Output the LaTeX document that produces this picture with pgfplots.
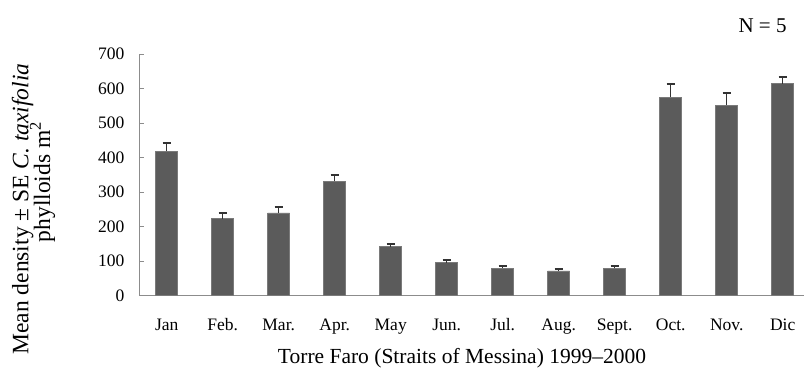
\documentclass[border=0pt]{standalone}
\usepackage{fontspec}
\setmainfont{Liberation Serif}
\usepackage{pgfplots}
\pgfplotsset{compat=1.18}
\definecolor{barfill}{HTML}{5B5B5B}
\definecolor{baredge}{HTML}{7A7A7A}
\definecolor{errc}{HTML}{333333}
\definecolor{axc}{HTML}{8C8C8C}
\begin{document}
\begin{tikzpicture}[x=1pt,y=1pt]
\useasboundingbox (0,0) rectangle (804,368);
\begin{axis}[
  at={(139pt,72.3pt)}, anchor=south west,
  scale only axis, width=665pt, height=241.7pt,
  xmin=-0.495, xmax=11.38, ymin=0, ymax=700,
  axis x line*=bottom, axis y line*=left,
  axis line style={draw=axc, line width=0.9pt},
  ytick={0,100,...,700},
  tick align=inside, major tick length=5pt,
  ytick style={draw=axc, line width=0.9pt},
  xtick={0,...,11},
  xticklabels={Jan,Feb.,Mar.,Apr.,May,Jun.,Jul.,Aug.,Sept.,Oct.,Nov.,Dic},
  xtick style={draw=none},
  tick label style={font=\fontsize{17.5}{20}\selectfont},
  /pgf/number format/assume math mode=true,
  yticklabel style={xshift=-11pt},
  xticklabel style={text height=12pt, text depth=4pt, yshift=-19.2pt},
  clip=false,
]
\addplot[ybar, bar width=22pt, fill=barfill, draw=baredge, line width=0.6pt,
  error bars/.cd, y dir=plus, y explicit,
  error bar style={draw=errc, line width=1.3pt},
  error mark=|,
  error mark options={draw=errc, mark size=4.2pt, line width=2pt}]
  table[x=x, y=y, y error=e] {
x y e
0 419 24
1 223 16
2 240 18
3 332 19
4 142 7
5 96 7
6 79 8
7 72 5
8 79 6
9 575 37
10 552 35
11 614 19
};
\end{axis}
\node[rotate=90, anchor=base, inner sep=0, font=\fontsize{23.5}{26}\selectfont] at (28.3,159) {Mean density ± SE \textit{C. taxifolia}};
\node[rotate=90, anchor=base, inner sep=0, font=\fontsize{23.5}{26}\selectfont] at (50,186) {phylloids m\textsuperscript{2}};
\node[anchor=base, inner sep=0, font=\fontsize{21}{24}\selectfont] at (762.5,336) {N = 5};
\node[anchor=base, inner sep=0, font=\fontsize{21.5}{24}\selectfont] at (462,5) {Torre Faro (Straits of Messina) 1999--2000};
\end{tikzpicture}
\end{document}
